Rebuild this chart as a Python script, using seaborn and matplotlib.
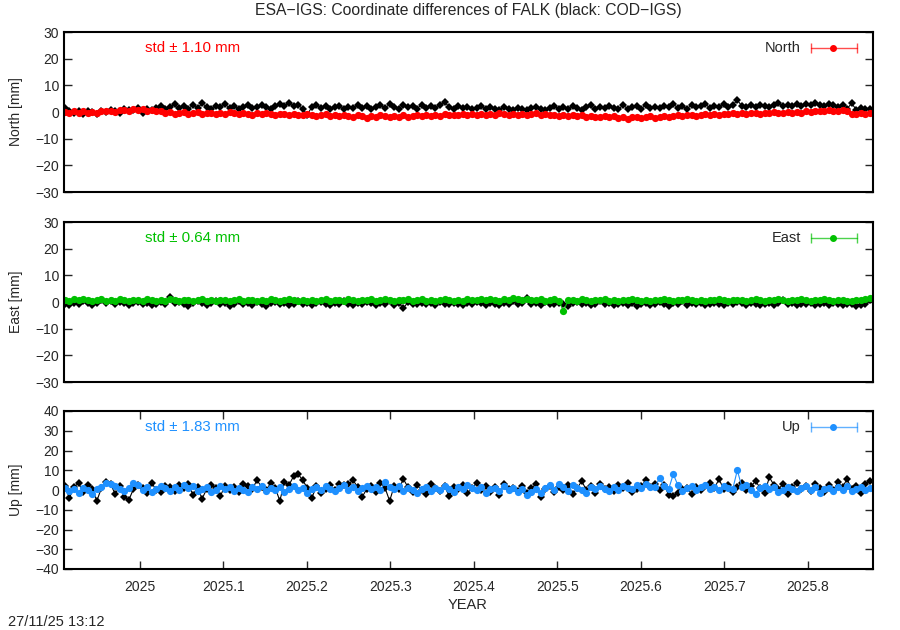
import numpy as np
import matplotlib
matplotlib.use("Agg")
import matplotlib.pyplot as plt
import seaborn as sns

# --- data: one value every 2 days, starting 2024.910 ---
START_YEAR = 2024.910
STEP_DAYS = 2

NORTH_COD = [
    1.5, 0.2, -0.5, 0.3, -0.8, 0.4, 0.1, -0.6, 0.5, 0.0,
    0.8, 0.3, -0.3, 1.2, 0.6, 0.9, 1.5, -0.2, 1.1, 0.7,
    1.6, 2.2, 1.0, 1.8, 3.0, 1.4, 2.1, 1.2, 2.6, 1.5,
    3.2, 2.0, 1.3, 2.4, 1.7, 2.9, 1.6, 2.2, 1.1, 1.9,
    2.5, 1.4, 2.0, 2.7, 1.8, 1.3, 2.3, 3.0, 2.4, 3.3,
    2.1, 2.6, 1.2, -1.0, 1.9, 2.8, 1.5, 2.2, 1.0, 1.7,
    2.4, 1.3, 2.0, 1.6, 2.7, 1.4, 2.3, 1.1, 1.8, 2.5,
    1.5, 2.9, 1.9, 1.2, 2.6, 1.7, 2.2, 1.3, 2.8, 1.6,
    2.1, 1.4, 2.5, 3.9, 1.8, 1.2, 2.3, 1.5, 2.0, 1.1,
    1.6, 2.2, 1.0, 1.7, 1.3, 0.8, 1.9, 1.2, 0.9, 1.5,
    1.1, 0.7, 1.4, 2.0, 1.3, 0.9, 1.6, 2.4, 1.0, 1.8,
    1.2, 2.3, 1.5, 0.9, 1.7, 2.5, 1.1, 1.9, 1.4, 2.2,
    1.6, 1.0, 2.6, 1.3, 1.8, 2.4, 1.2, 2.7, 1.5, 2.0,
    1.4, 2.3, 1.7, 2.9, 1.6, 2.1, 1.3, 2.5, 1.8, 2.2,
    3.0, 1.5, 2.4, 1.9, 3.1, 2.0, 2.6, 4.4, 2.3, 1.8,
    2.5, 1.9, 2.8, 2.2, 1.7, 2.6, 3.2, 2.1, 2.7, 2.4,
    3.0, 2.3, 2.9, 2.5, 3.4, 2.6, 2.2, 3.1, 2.8, 2.0,
    2.6, 1.3, 3.2, 0.9, 1.6, 1.2, 1.0,
]
NORTH_ESA = [
    0.0, -0.4, 0.3, -0.2, 0.2, -0.5, 0.1, -0.3, 0.4, 0.2,
    0.5, 0.1, 0.6, 0.9, 0.4, 1.0, 0.7, 1.1, 0.5, 0.8,
    0.2, 0.4, -0.2, 0.1, -0.6, -0.3, 0.0, -0.8, -0.4, -0.1,
    -0.7, -0.5, -0.2, -0.9, -0.4, -0.6, 0.0, -0.5, -0.8, -0.3,
    -0.6, -1.0, -0.5, -0.8, -0.3, -0.7, -1.1, -0.6, -0.9, -1.2,
    -0.8, -1.3, -1.0, -0.7, -1.2, -1.5, -1.1, -0.9, -1.4, -1.2,
    -1.6, -1.1, -1.4, -1.8, -1.3, -1.5, -2.1, -1.4, -1.7, -1.2,
    -1.6, -1.9, -1.4, -1.7, -1.3, -1.8, -1.5, -1.2, -1.6, -1.0,
    -1.4, -1.1, -1.5, -0.9, -1.3, -1.0, -1.2, -0.8, -1.1, -0.7,
    -1.0, -0.6, -1.2, -0.8, -1.1, -0.5, -0.9, -1.3, -0.7, -1.0,
    -0.8, -1.2, -0.9, -0.4, -1.1, -0.8, -1.3, -1.0, -1.4, -1.1,
    -1.5, -1.2, -1.6, -1.3, -1.8, -1.4, -1.7, -2.0, -1.6, -1.9,
    -1.5, -2.2, -1.8, -2.6, -2.0, -1.7, -2.3, -1.9, -1.6, -2.1,
    -1.7, -1.4, -1.9, -1.5, -1.2, -1.6, -1.3, -1.0, -1.4, -1.1,
    -0.9, -1.2, -0.8, -1.0, -0.6, -0.9, -0.5, -0.8, -0.4, -0.7,
    -0.5, -0.3, -0.6, -0.2, -0.5, -0.1, -0.4, -0.2, 0.0, -0.3,
    0.1, -0.2, 0.2, 0.0, 0.3, 0.5, 0.2, 0.6, 0.3, 0.4,
    0.7, 0.2, -0.6, -0.9, -0.4, -0.7, -0.5,
]
EAST_COD = [
    -0.8, -1.2, -0.3, -0.9, 0.2, -0.5, -1.0, -0.2, 0.6, -0.4,
    0.3, -0.7, 0.1, -0.5, -1.1, -0.3, 0.0, -0.8, -0.2, -1.3,
    -0.6, -0.1, -0.9, 2.0, -0.4, 0.1, -0.7, -1.4, -0.3, 0.4,
    -0.5, -1.0, -0.2, 0.5, -0.8, -0.3, -1.5, -0.6, 0.2, -0.9,
    -0.4, -1.1, -0.1, -0.7, -1.4, -0.5, 0.0, -0.9, -0.3, -1.2,
    -0.6, 0.3, -0.8, -0.2, -1.0, -0.5, 0.1, -0.7, -1.3, -0.4,
    -0.9, 0.2, -0.6, -1.1, -0.3, -0.8, 0.0, -0.5, -1.2, -0.2,
    -0.7, 0.3, -1.0, -0.4, -2.3, -0.1, -0.6, -0.9, -0.5, -0.8,
    -0.3, -1.1, 0.1, -0.6, -0.9, -0.2, -0.7, -1.2, -0.4, -0.8,
    0.0, -0.5, -1.0, -0.3, -0.7, -1.3, -0.2, -0.6, 0.2, -0.9,
    -0.4, 1.6, -0.8, -0.3, -1.1, 0.0, -0.6, -0.9, -0.2, -0.7,
    -1.4, -0.5, 0.1, -0.8, -0.3, -1.0, -0.6, 0.3, -0.9, -0.4,
    -1.2, -0.7, -0.2, -1.0, -0.5, -1.6, -0.8, -0.3, -1.1, -0.6,
    -0.1, -0.9, -1.5, -0.4, -0.7, 0.2, -1.0, -0.5, -0.8, -0.3,
    -1.1, -0.6, -0.2, -0.9, -1.3, -0.4, -0.7, 0.1, -0.5, -1.0,
    -0.3, -0.8, -1.2, -0.6, -0.2, -1.0, -0.5, 0.8, -0.7, -0.4,
    -1.1, -0.6, -0.9, -0.3, -1.2, -0.7, -0.4, -1.0, -0.5, -0.8,
    -1.3, -0.9, -0.6, -1.4, -1.0, -0.7, 0.6,
]
EAST_ESA = [
    0.8, 0.4, 1.0, 0.6, 1.2, 0.7, 0.3, 0.9, 1.1, 0.5,
    0.8, 0.4, 1.0, 0.6, 0.2, 0.7, 0.9, 0.5, 1.1, 0.6,
    0.3, 0.8, 0.5, 1.0, 0.7, 0.4, 0.9, 0.6, 0.2, 0.7,
    1.0, 0.5, 0.8, 0.3, 0.6, 0.9, 0.4, 0.7, 1.1, 0.5,
    0.8, 0.6, 0.3, 0.9, 0.5, 1.0, 0.7, 0.4, 0.8, 1.2,
    0.6, 0.3, 0.9, 0.5, 0.8, 0.2, 0.7, 1.0, 0.4, 0.6,
    0.9, 0.5, 1.1, 0.7, 0.3, 0.8, 0.6, 1.0, 0.4, 0.7,
    1.2, 0.8, 0.5, 0.9, 0.6, 1.0, 0.4, 0.7, 1.1, 0.5,
    0.8, 0.3, 0.6, 1.0, 0.7, 0.4, 0.9, 0.5, 1.2, 0.8,
    0.6, 1.0, 0.7, 1.3, 0.9, 0.5, 1.1, 0.8, 1.4, 1.0,
    0.7, 1.2, 0.9, 0.6, 1.0, 0.5, 0.8, 1.1, 0.4, -3.4,
    0.6, 0.9, 0.5, 1.0, 0.7, 0.3, 0.8, 0.6, 1.0, 0.4,
    0.7, 0.5, 0.9, 0.6, 1.1, 0.7, 0.4, 0.8, 0.5, 0.9,
    0.6, 1.2, 0.8, 0.5, 0.9, 0.6, 1.0, 0.7, 0.3, 0.8,
    0.5, 0.9, 0.6, 1.0, 0.7, 0.4, 0.8, 0.6, 0.9, 0.2,
    0.7, 1.1, 0.8, 0.5, 0.9, 0.6, 1.0, 0.7, 0.4, 0.8,
    0.6, 1.0, 0.7, 0.5, 0.9, 0.6, 1.1, 0.8, 0.4, 0.7,
    0.9, 0.5, 0.3, 0.6, 0.8, 1.2, 1.6,
]
UP_COD = [
    2.0, -4.0, 1.5, 3.5, -1.0, 2.5, 0.5, -5.5, 1.0, 4.0,
    3.0, -2.0, 2.0, -3.5, -5.0, 0.5, 2.5, 1.0, -1.5, 3.5,
    0.0, -1.0, 2.0, 1.5, -0.5, 2.5, 1.0, 3.0, -2.5, 1.5,
    -4.5, 0.5, 2.5, 1.0, -3.0, 2.0, 0.0, 1.5, -1.0, 3.0,
    2.0, 0.5, 5.0, 1.5, 0.0, 3.5, 1.0, -5.5, 4.0, 2.5,
    7.0, 8.0, 5.0, 1.0, -4.0, 2.0, -1.5, 0.5, 2.5, 0.0,
    3.0, 2.5, 3.0, 5.0, 1.5, -3.5, 0.5, 2.0, -1.0, 3.5,
    1.0, -5.5, 2.0, 0.5, 5.5, 1.5, -1.0, 2.5, 0.0, -2.0,
    3.0, 1.0, -0.5, 2.0, -3.0, 1.5, 0.5, 2.5, -1.5, 1.0,
    3.5, 0.0, 2.0, -1.0, 1.5, -2.5, 3.0, 0.5, 1.0, -0.5,
    2.0, -1.5, 1.0, 3.0, -3.5, 0.5, 2.0, -1.0, 1.5, 0.0,
    2.5, -2.0, 1.0, 4.5, 0.0, 2.0, -1.5, 3.0, 0.5, 1.5,
    -0.5, 2.5, 1.0, 3.5, -1.0, 0.5, 2.0, 5.0, 1.5, 3.0,
    0.0, 2.5, -2.5, -3.0, -1.5, 0.5, 1.0, -2.0, 1.5, 0.0,
    2.0, 3.5, 1.0, 5.5, 0.5, 2.5, -1.0, 1.5, 3.5, 0.0,
    2.0, 4.5, 1.0, -1.5, 6.5, 2.5, 0.5, 3.0, -2.0, 1.5,
    3.5, 0.5, 2.0, -0.5, 3.0, 1.0, -1.0, 2.5, 0.0, 4.0,
    1.5, 5.5, 0.5, 2.0, -1.5, 3.0, 4.5,
]
UP_ESA = [
    1.0, -0.5, 0.5, -1.5, 1.0, 0.0, -2.0, 0.5, 1.5, 3.5,
    3.0, 2.0, 0.5, -0.5, 1.0, 3.5, 2.5, 0.0, 1.5, -1.0,
    0.5, 2.0, 1.0, -0.5, 1.5, 0.0, 2.5, 1.0, 2.0, -0.5,
    0.5, 1.5, -1.0, 0.0, 2.0, 0.5, 1.5, -0.5, 1.0, 0.0,
    -1.0, 1.5, 0.5, 2.0, -0.5, 1.0, 0.0, 1.5, -1.0, 0.5,
    2.0, 0.0, 1.0, -1.5, 0.5, 1.5, 0.0, 2.0, 0.5, -0.5,
    1.0, 2.5, 0.0, 1.5, -0.5, 1.0, 2.0, 0.5, 1.5, 0.0,
    4.0, 1.5, 0.5, 2.0, -0.5, 1.0, 0.0, -1.5, 0.5, 1.5,
    -0.5, 1.0, 0.0, 2.0, 0.5, -1.0, 1.5, 0.5, 2.5, 1.0,
    0.0, 1.5, -1.5, 0.5, 1.0, -0.5, 2.0, 0.0, 1.0, -1.0,
    0.5, -2.5, -1.0, 0.5, -1.5, 1.0, 2.5, 0.0, 3.0, 1.5,
    -0.5, 2.5, 1.0, 0.0, -1.5, 1.5, 0.5, 2.0, 0.5, -0.5,
    1.5, 0.0, 2.0, 1.0, 0.5, 2.5, 1.0, 3.0, 1.5, 1.5,
    6.0, 2.0, 0.5, 8.0, 2.5, -0.5, 1.0, 2.0, 0.0, 1.5,
    2.5, 0.5, 1.5, 0.0, 2.0, 1.0, 0.5, 10.0, 1.5, 2.5,
    0.0, -2.0, 1.0, 2.0, 0.5, 1.5, -1.0, 0.0, 1.5, 0.5,
    -0.5, 1.0, 2.0, 0.0, 1.5, -1.5, 0.5, 1.0, -0.5, 1.5,
    0.0, 2.0, -0.5, 0.5, 1.5, 0.0, 1.0,
]

PANELS = ["North", "East", "Up"]
STD_TEXT = ["std \u00b1 1.10 mm", "std \u00b1 0.64 mm", "std \u00b1 1.83 mm"]
COLORS = ["#ff0000", "#00c000", "#1e90ff"]
YLIMS = [(-30, 30), (-30, 30), (-40, 40)]
XTICKS = [2025.0, 2025.1, 2025.2, 2025.3, 2025.4, 2025.5, 2025.6, 2025.7, 2025.8]
XTICK_LABELS = ["2025", "2025.1", "2025.2", "2025.3", "2025.4", "2025.5", "2025.6", "2025.7", "2025.8"]

cod_series = [NORTH_COD, EAST_COD, UP_COD]
esa_series = [NORTH_ESA, EAST_ESA, UP_ESA]

sns.set_style("ticks")
plt.rcParams["font.family"] = ["Liberation Sans", "DejaVu Sans"]
plt.rcParams["font.size"] = 10

fig = plt.figure(figsize=(9, 6.3), dpi=100)
# axes boxes in pixels: left 64, right 873
ax_rects = [
    [64 / 900, 1 - 192 / 630, 809 / 900, 160 / 630],
    [64 / 900, 1 - 382 / 630, 809 / 900, 160 / 630],
    [64 / 900, 1 - 569 / 630, 809 / 900, 158 / 630],
]

for i, name in enumerate(PANELS):
    ax = fig.add_axes(ax_rects[i])
    n = len(cod_series[i])
    years = START_YEAR + np.arange(n) * STEP_DAYS / 365.0

    sns.lineplot(x=years, y=cod_series[i], ax=ax, color="black", lw=0.8,
                 marker="D", markersize=4.2, markeredgewidth=0, estimator=None, sort=False)
    sns.lineplot(x=years, y=esa_series[i], ax=ax, color=COLORS[i], lw=0.8,
                 marker="o", markersize=5.2, markeredgewidth=0, estimator=None, sort=False)

    ax.set_xlim(2024.909, 2025.878)
    lo, hi = YLIMS[i]
    ax.set_ylim(lo, hi)
    ax.set_yticks(np.arange(lo, hi + 1, 10))
    ax.tick_params(axis="y", direction="in", left=True, right=True, length=6, width=1, labelsize=10)
    if i < 2:
        ax.tick_params(axis="x", bottom=False, top=False, labelbottom=False)
    else:
        ax.set_xticks(XTICKS)
        ax.set_xticklabels(XTICK_LABELS)
        ax.tick_params(axis="x", direction="in", bottom=True, top=True, length=6, width=1,
                       labelsize=10, pad=8)
    ax.set_xlabel("")
    ax.set_ylabel("")
    for sp in ax.spines.values():
        sp.set_visible(True)
        sp.set_linewidth(1.5)
        sp.set_color("black")

    # std annotation
    ax.text(0.1, 0.9, STD_TEXT[i], transform=ax.transAxes, color=COLORS[i],
            fontsize=10.8, ha="left", va="center")
    # gnuplot style key: label + errorbar sample
    ax.text(0.911, 0.9, name, transform=ax.transAxes, fontsize=10.5, ha="right", va="center")
    ax.plot([0.923, 0.980], [0.9, 0.9], transform=ax.transAxes, color=COLORS[i], lw=1, alpha=0.7)
    ax.plot([0.923, 0.980], [0.9, 0.9], transform=ax.transAxes, color=COLORS[i], lw=0,
            marker="|", markersize=7, alpha=0.7)
    ax.plot([0.951], [0.9], transform=ax.transAxes, color=COLORS[i], marker="o", markersize=4)

    ymid = ax_rects[i][1] + ax_rects[i][3] / 2
    fig.text(0.018, ymid, f"{name} [mm]", rotation=90, ha="center", va="center", fontsize=10)

fig.text(468 / 900, 1 - 10 / 630, "ESA\u2212IGS: Coordinate differences of FALK (black: COD\u2212IGS)",
         ha="center", va="center", fontsize=11.3)
fig.text(468 / 900, 1 - 605 / 630, "YEAR", ha="center", va="center", fontsize=10.5)
fig.text(8 / 900, 1 - 622 / 630, "27/11/25 13:12", ha="left", va="center", fontsize=10.5)

fig.savefig("out.png", dpi=100)
